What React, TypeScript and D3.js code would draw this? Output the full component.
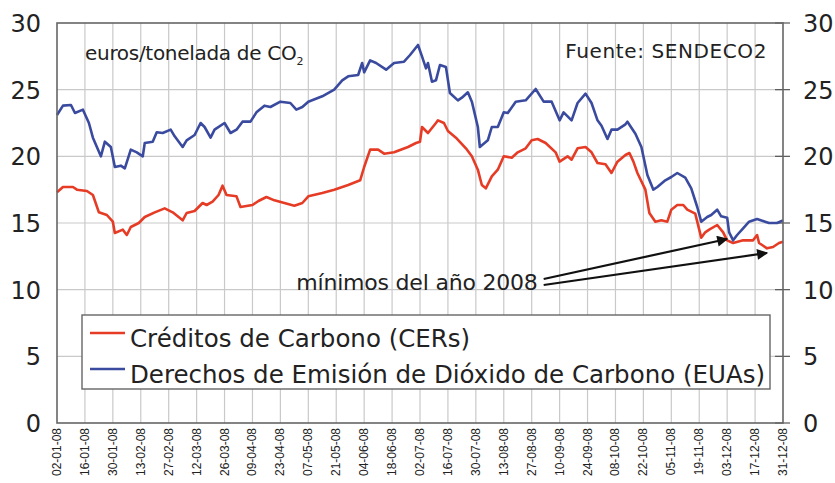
import React, { useEffect, useRef } from 'react';
import * as d3 from 'd3';

// x-axis tick labels (every two weeks)
const tickLabels = [
  '02-01-08', '16-01-08', '30-01-08', '13-02-08', '27-02-08', '12-03-08', '26-03-08',
  '09-04-08', '23-04-08', '07-05-08', '21-05-08', '04-06-08', '18-06-08', '02-07-08',
  '16-07-08', '30-07-08', '13-08-08', '27-08-08', '10-09-08', '24-09-08', '08-10-08',
  '22-10-08', '05-11-08', '19-11-08', '03-12-08', '17-12-08', '31-12-08'
];
const yTicks = [0, 5, 10, 15, 20, 25, 30];

// Derechos de Emisión (EUAs)
const euaDates = [
  '02-01-08', '05-01-08', '09-01-08', '11-01-08', '15-01-08', '18-01-08', '20-01-08', '24-01-08',
  '26-01-08', '29-01-08', '31-01-08', '03-02-08', '05-02-08', '08-02-08', '11-02-08', '14-02-08',
  '15-02-08', '19-02-08', '21-02-08', '24-02-08', '28-02-08', '01-03-08', '05-03-08', '07-03-08',
  '11-03-08', '14-03-08', '16-03-08', '19-03-08', '21-03-08', '26-03-08', '29-03-08', '01-04-08',
  '04-04-08', '08-04-08', '11-04-08', '15-04-08', '18-04-08', '23-04-08', '28-04-08', '01-05-08',
  '04-05-08', '07-05-08', '14-05-08', '20-05-08', '24-05-08', '27-05-08', '01-06-08', '03-06-08',
  '04-06-08', '07-06-08', '10-06-08', '15-06-08', '19-06-08', '24-06-08', '27-06-08', '01-07-08',
  '03-07-08', '05-07-08', '06-07-08', '08-07-08', '10-07-08', '12-07-08', '15-07-08', '17-07-08',
  '21-07-08', '23-07-08', '26-07-08', '28-07-08', '31-07-08', '01-08-08', '05-08-08', '07-08-08',
  '10-08-08', '13-08-08', '15-08-08', '19-08-08', '24-08-08', '29-08-08', '02-09-08', '06-09-08',
  '10-09-08', '12-09-08', '16-09-08', '19-09-08', '23-09-08', '26-09-08', '29-09-08', '01-10-08',
  '04-10-08', '06-10-08', '09-10-08', '13-10-08', '14-10-08', '18-10-08', '21-10-08', '24-10-08',
  '27-10-08', '29-10-08', '02-11-08', '05-11-08', '08-11-08', '12-11-08', '15-11-08', '18-11-08',
  '20-11-08', '23-11-08', '25-11-08', '28-11-08', '30-11-08', '03-12-08', '04-12-08', '06-12-08',
  '08-12-08', '11-12-08', '14-12-08', '18-12-08', '22-12-08', '24-12-08', '28-12-08', '31-12-08'
];
const euaValues = [
  23.1, 23.8, 23.85, 23.25, 23.5, 22.5, 21.4, 20.0,
  21.1, 20.7, 19.2, 19.3, 19.1, 20.5, 20.3, 20.0,
  21.0, 21.1, 21.8, 21.75, 22.0, 21.5, 20.7, 21.2,
  21.6, 22.5, 22.2, 21.4, 22.0, 22.5, 21.75, 22.0,
  22.6, 22.6, 23.3, 23.8, 23.7, 24.1, 24.0, 23.5,
  23.7, 24.1, 24.5, 25.0, 25.7, 26.0, 26.1, 27.0,
  26.3, 27.2, 27.0, 26.5, 27.0, 27.1, 27.6, 28.35,
  27.5, 26.6, 27.0, 25.6, 25.7, 26.85, 26.7, 24.75,
  24.2, 24.4, 24.8, 24.1, 22.2, 20.7, 21.2, 22.2,
  22.2, 23.3, 23.25, 24.1, 24.2, 25.05, 24.1, 24.1,
  22.7, 23.3, 22.7, 24.0, 24.7, 24.0, 22.7, 22.3,
  21.3, 22.0, 22.0, 22.4, 22.6, 21.7, 20.7, 18.6,
  17.5, 17.7, 18.2, 18.45, 18.75, 18.4, 17.6, 16.2,
  15.1, 15.45, 15.6, 16.0, 15.5, 15.4, 14.3, 13.7,
  14.1, 14.6, 15.1, 15.3, 15.1, 15.0, 15.0, 15.2
];

// Créditos de Carbono (CERs)
const cerDates = [
  '02-01-08', '05-01-08', '10-01-08', '12-01-08', '17-01-08', '20-01-08', '23-01-08', '27-01-08',
  '30-01-08', '31-01-08', '04-02-08', '06-02-08', '08-02-08', '12-02-08', '15-02-08', '20-02-08',
  '25-02-08', '29-02-08', '05-03-08', '07-03-08', '11-03-08', '15-03-08', '17-03-08', '20-03-08',
  '23-03-08', '25-03-08', '27-03-08', '01-04-08', '03-04-08', '09-04-08', '12-04-08', '16-04-08',
  '20-04-08', '25-04-08', '30-04-08', '04-05-08', '07-05-08', '14-05-08', '20-05-08', '27-05-08',
  '02-06-08', '04-06-08', '07-06-08', '11-06-08', '14-06-08', '19-06-08', '26-06-08', '30-06-08',
  '02-07-08', '03-07-08', '06-07-08', '10-07-08', '11-07-08', '14-07-08', '16-07-08', '20-07-08',
  '25-07-08', '28-07-08', '31-07-08', '02-08-08', '04-08-08', '07-08-08', '10-08-08', '13-08-08',
  '17-08-08', '20-08-08', '24-08-08', '27-08-08', '30-08-08', '03-09-08', '08-09-08', '10-09-08',
  '14-09-08', '16-09-08', '19-09-08', '23-09-08', '26-09-08', '29-09-08', '03-10-08', '06-10-08',
  '09-10-08', '13-10-08', '15-10-08', '17-10-08', '19-10-08', '23-10-08', '25-10-08', '28-10-08',
  '31-10-08', '03-11-08', '05-11-08', '08-11-08', '11-11-08', '13-11-08', '17-11-08', '19-11-08',
  '20-11-08', '22-11-08', '24-11-08', '28-11-08', '01-12-08', '03-12-08', '06-12-08', '11-12-08',
  '16-12-08', '18-12-08', '19-12-08', '23-12-08', '26-12-08', '29-12-08', '31-12-08'
];
const cerValues = [
  17.3, 17.7, 17.7, 17.5, 17.4, 17.1, 15.8, 15.6,
  15.1, 14.25, 14.5, 14.1, 14.7, 15.0, 15.45, 15.8,
  16.1, 15.8, 15.2, 15.75, 15.9, 16.5, 16.35, 16.6,
  17.1, 17.8, 17.1, 17.0, 16.2, 16.35, 16.65, 16.95,
  16.7, 16.5, 16.3, 16.5, 17.0, 17.25, 17.5, 17.85,
  18.2, 19.2, 20.5, 20.5, 20.2, 20.3, 20.7, 21.0,
  21.1, 22.2, 21.75, 22.5, 22.7, 22.5, 21.9, 21.4,
  20.6, 20.0, 19.0, 17.85, 17.6, 18.5, 19.0, 20.0,
  19.9, 20.3, 20.6, 21.2, 21.3, 21.0, 20.3, 19.6,
  20.0, 19.75, 20.6, 20.7, 20.3, 19.5, 19.4, 18.75,
  19.6, 20.1, 20.25, 19.6, 18.75, 17.5, 15.75, 15.1,
  15.2, 15.1, 16.0, 16.35, 16.35, 16.0, 15.7, 14.5,
  13.9, 14.3, 14.5, 14.85, 14.3, 13.7, 13.5, 13.7,
  13.7, 14.1, 13.5, 13.1, 13.2, 13.5, 13.6
];

const seriesNames = [
  'Créditos de Carbono (CERs)',
  'Derechos de Emisión de Dióxido de Carbono (EUAs)'
];
const seriesColors = ['#e63b25', '#3a4b9f'];

// annotation: "mínimos del año 2008"
const noteLabel = 'mínimos del año 2008';
const noteAt = { date: '30-08-08', value: 9.95 };
const arrowFrom = [
  { date: '02-09-08', value: 10.8 },
  { date: '02-09-08', value: 10.35 }
];
const arrowTo = [
  { date: '03-12-08', value: 13.8 },
  { date: '23-12-08', value: 12.75 }
];

const W = 835;
const H = 483;
const M = { top: 23, right: 52, bottom: 60, left: 57 };
const FONT = "'DejaVu Sans', Verdana, sans-serif";
const FONT2 = "'Liberation Sans', Arial, sans-serif";

const parse = d3.timeParse('%d-%m-%y');

export default function App() {
  const svgRef = useRef<SVGSVGElement>(null);

  useEffect(() => {
    document.body.style.margin = '0';
    const svg = d3.select(svgRef.current);
    svg.selectAll('*').remove();

    const x = d3.scaleTime()
      .domain([parse(tickLabels[0])!, parse(tickLabels[tickLabels.length - 1])!])
      .range([M.left, W - M.right]);
    const y = d3.scaleLinear().domain([0, 30]).range([H - M.bottom, M.top]);

    const defs = svg.append('defs');
    defs.append('marker')
      .attr('id', 'arrow')
      .attr('viewBox', '0 0 10 10')
      .attr('refX', 9).attr('refY', 5)
      .attr('markerWidth', 6.5).attr('markerHeight', 5)
      .attr('markerUnits', 'strokeWidth')
      .attr('orient', 'auto')
      .append('path')
      .attr('d', 'M0,0L10,5L0,10z')
      .attr('fill', '#111');

    svg.append('rect').attr('width', W).attr('height', H).attr('fill', '#fff');

    // grid
    const grid = svg.append('g').attr('stroke', '#c9c9c9').attr('stroke-width', 1.2);
    grid.selectAll('.vg')
      .data(tickLabels.slice(1, -1))
      .enter().append('line')
      .attr('x1', d => x(parse(d)!)).attr('x2', d => x(parse(d)!))
      .attr('y1', y(0)).attr('y2', y(30));
    grid.selectAll('.hg')
      .data(yTicks.slice(1, -1))
      .enter().append('line')
      .attr('x1', x.range()[0]).attr('x2', x.range()[1])
      .attr('y1', d => y(d)).attr('y2', d => y(d));

    // right ticks
    svg.append('g').attr('stroke', '#555').attr('stroke-width', 1.2)
      .selectAll('line')
      .data(yTicks)
      .enter().append('line')
      .attr('x1', x.range()[1] - 8).attr('x2', x.range()[1] + 7)
      .attr('y1', d => y(d)).attr('y2', d => y(d));

    // lines
    const line = d3.line<[Date, number]>()
      .x(d => x(d[0]))
      .y(d => y(d[1]));
    const cer = cerDates.map((d, i) => [parse(d)!, cerValues[i]] as [Date, number]);
    const eua = euaDates.map((d, i) => [parse(d)!, euaValues[i]] as [Date, number]);
    [cer, eua].forEach((s, i) => {
      svg.append('path')
        .datum(s)
        .attr('fill', 'none')
        .attr('stroke', seriesColors[i])
        .attr('stroke-width', 2.6)
        .attr('stroke-linejoin', 'round')
        .attr('d', line);
    });

    // frame
    svg.append('rect')
      .attr('x', x.range()[0]).attr('y', y(30))
      .attr('width', x.range()[1] - x.range()[0])
      .attr('height', y(0) - y(30))
      .attr('fill', 'none')
      .attr('stroke', '#666')
      .attr('stroke-width', 1.6);

    // y labels both sides
    svg.append('g').selectAll('text')
      .data(yTicks)
      .enter().append('text')
      .attr('x', x.range()[0] - 16)
      .attr('y', d => y(d) + 9)
      .attr('text-anchor', 'end')
      .attr('font-family', FONT).attr('font-size', 24).attr('fill', '#222')
      .text(d => d);
    svg.append('g').selectAll('text')
      .data(yTicks)
      .enter().append('text')
      .attr('x', x.range()[1] + 20)
      .attr('y', d => y(d) + 9)
      .attr('font-family', FONT).attr('font-size', 24).attr('fill', '#222')
      .text(d => d);

    // x labels (rotated)
    svg.append('g').selectAll('text')
      .data(tickLabels)
      .enter().append('text')
      .attr('transform', d => `translate(${x(parse(d)!) + 4},${y(0) + 5}) rotate(-90)`)
      .attr('text-anchor', 'end')
      .attr('font-family', FONT2).attr('font-size', 12).attr('fill', '#222')
      .text(d => d);

    // unit + source
    const unit = svg.append('text')
      .attr('x', x.range()[0] + 28).attr('y', y(30) + 37)
      .attr('font-family', FONT).attr('font-size', 20).attr('letter-spacing', -0.3).attr('fill', '#222');
    unit.append('tspan').text('euros/tonelada de CO');
    unit.append('tspan').attr('font-size', 11).attr('dx', 0).attr('dy', 5).text('2');
    svg.append('text')
      .attr('x', x.range()[1] - 16).attr('y', y(30) + 35)
      .attr('text-anchor', 'end')
      .attr('font-family', FONT).attr('font-size', 20).attr('letter-spacing', 0.6).attr('fill', '#222')
      .text('Fuente: SENDECO2');

    // annotation
    svg.append('text')
      .attr('x', x(parse(noteAt.date)!)).attr('y', y(noteAt.value))
      .attr('text-anchor', 'end')
      .attr('font-family', FONT).attr('font-size', 22).attr('letter-spacing', -0.2).attr('fill', '#222')
      .text(noteLabel);
    svg.append('g').selectAll('line')
      .data(arrowFrom)
      .enter().append('line')
      .attr('x1', d => x(parse(d.date)!)).attr('y1', d => y(d.value))
      .attr('x2', (d, i) => x(parse(arrowTo[i].date)!))
      .attr('y2', (d, i) => y(arrowTo[i].value))
      .attr('stroke', '#111').attr('stroke-width', 2.2)
      .attr('marker-end', 'url(#arrow)');

    // legend
    const lg = svg.append('g');
    lg.append('rect')
      .attr('x', 82).attr('y', 315).attr('width', 688).attr('height', 74)
      .attr('fill', '#fff').attr('stroke', '#666').attr('stroke-width', 1.4);
    seriesNames.forEach((name, i) => {
      const cy = 333 + i * 36;
      lg.append('line')
        .attr('x1', 90).attr('x2', 125).attr('y1', cy).attr('y2', cy)
        .attr('stroke', seriesColors[i]).attr('stroke-width', 2.6);
      lg.append('text')
        .attr('x', 130).attr('y', cy + 14)
        .attr('font-family', FONT).attr('font-size', 24.5).attr('fill', '#222')
        .text(name);
    });
  }, []);

  return <svg ref={svgRef} width={W} height={H} style={{ display: 'block' }} />;
}
